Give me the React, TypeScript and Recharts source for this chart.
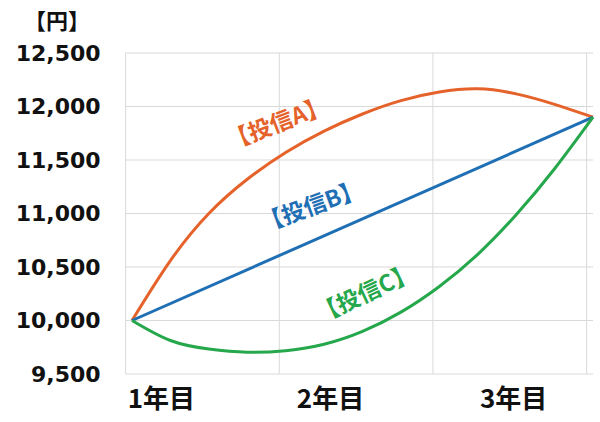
import { CartesianGrid, Line, LineChart, XAxis, YAxis } from 'recharts';

// months elapsed since start (0..36)
const MONTHS = [0, 3, 6, 9, 12, 15, 18, 21, 24, 27, 30, 33, 36];
const FUND_A = [10000, 10560, 11000, 11320, 11570, 11770, 11930, 12055, 12135, 12165, 12118, 12020, 11900];
const FUND_B = [10000, null, null, null, null, null, null, null, null, null, null, null, 11900];
const FUND_C = [10000, 9813, 9733, 9703, 9718, 9778, 9898, 10078, 10318, 10618, 10988, 11418, 11900];

const Y_TICKS = [9500, 10000, 10500, 11000, 11500, 12000, 12500];
const GRID_X = [-0.5, 11.5, 23.5, 35.5];
const X_LABEL_POS = [2.3, 15.5, 29.8];
const X_LABELS = ['1年目', '2年目', '3年目'];

const ORANGE = '#e5622a';
const BLUE = '#1f6fb5';
const GREEN = '#25a74b';

const JP = '"Noto Sans CJK JP", "Noto Sans", sans-serif';

const data = MONTHS.map((t, i) => ({ t, a: FUND_A[i], b: FUND_B[i], c: FUND_C[i] }));

function Tag({ text, color, x, y, angle }: { text: string; color: string; x: number; y: number; angle: number }) {
  return (
    <div
      style={{
        position: 'absolute',
        left: x,
        top: y,
        transform: `translate(-50%, -50%) rotate(${angle}deg)`,
        color,
        fontFamily: JP,
        fontWeight: 700,
        fontSize: 23,
        whiteSpace: 'nowrap',
        lineHeight: 1,
      }}
    >
      {text}
    </div>
  );
}

export default function App() {
  return (
    <div style={{ position: 'absolute', left: 0, top: 0, width: 600, height: 422, background: '#fff' }}>
      <LineChart width={600} height={422} data={data} margin={{ top: 53, right: 7, bottom: 18, left: 0 }}>
        <CartesianGrid stroke="#d9d9d9" verticalValues={GRID_X} />
        <XAxis
          type="number"
          dataKey="t"
          domain={[-0.5, 36]}
          ticks={X_LABEL_POS}
          tickFormatter={(v, i) => X_LABELS[i]}
          axisLine={false}
          tickLine={false}
          tickSize={0}
          tickMargin={16}
          height={30}
          tick={{ fill: '#111', fontFamily: JP, fontWeight: 700, fontSize: 26 }}
          interval={0}
        />
        <YAxis
          domain={[9500, 12500]}
          ticks={Y_TICKS}
          tickFormatter={(v) => v.toLocaleString('en-US')}
          axisLine={false}
          tickLine={false}
          tickSize={0}
          tickMargin={25}
          width={125.6}
          tick={{ fill: '#111', fontFamily: '"DejaVu Sans", sans-serif', fontWeight: 700, fontSize: 22 }}
          interval={0}
        />
        <Line type="natural" dataKey="a" stroke={ORANGE} strokeWidth={3} dot={false} isAnimationActive={false} />
        <Line type="linear" dataKey="b" stroke={BLUE} strokeWidth={3} dot={false} connectNulls isAnimationActive={false} />
        <Line type="natural" dataKey="c" stroke={GREEN} strokeWidth={3} dot={false} isAnimationActive={false} />
      </LineChart>
      <div
        style={{
          position: 'absolute',
          left: 57,
          top: 19,
          transform: 'translate(-50%, -50%)',
          fontFamily: JP,
          fontWeight: 700,
          fontSize: 22,
          color: '#111',
          lineHeight: 1,
        }}
      >
        【円】
      </div>
      <Tag text="【投信A】" color={ORANGE} x={277} y={122} angle={-21} />
      <Tag text="【投信B】" color={BLUE} x={311} y={205} angle={-20} />
      <Tag text="【投信C】" color={GREEN} x={365} y={292} angle={-25} />
    </div>
  );
}
